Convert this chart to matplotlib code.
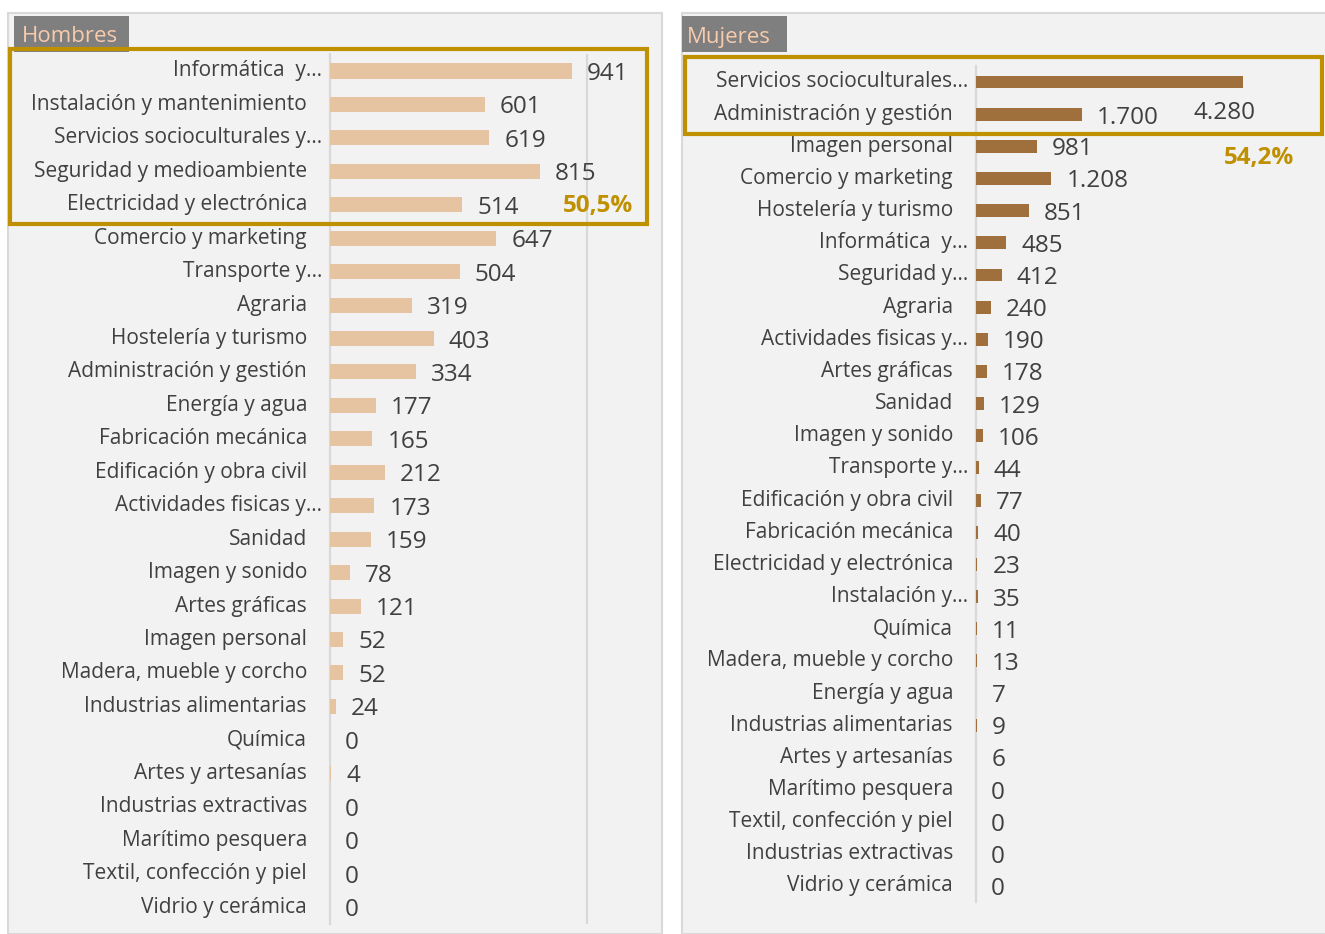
import matplotlib
matplotlib.use("Agg")
import matplotlib.pyplot as plt
from matplotlib.patches import Rectangle
from matplotlib.transforms import offset_copy

plt.rcParams['font.family'] = ['Open Sans', 'DejaVu Sans']

# ---------------- data ----------------
hombres_cat = ["Informática  y…", "Instalación y mantenimiento", "Servicios socioculturales y…",
               "Seguridad y medioambiente", "Electricidad y electrónica", "Comercio y marketing",
               "Transporte y…", "Agraria", "Hostelería y turismo", "Administración y gestión",
               "Energía y agua", "Fabricación mecánica", "Edificación y obra civil",
               "Actividades fisicas y…", "Sanidad", "Imagen y sonido", "Artes gráficas",
               "Imagen personal", "Madera, mueble y corcho", "Industrias alimentarias",
               "Química", "Artes y artesanías", "Industrias extractivas", "Marítimo pesquera",
               "Textil, confección y piel", "Vidrio y cerámica"]
hombres_val = [941, 601, 619, 815, 514, 647, 504, 319, 403, 334, 177, 165, 212, 173, 159,
               78, 121, 52, 52, 24, 0, 4, 0, 0, 0, 0]

mujeres_cat = ["Servicios socioculturales…", "Administración y gestión", "Imagen personal",
               "Comercio y marketing", "Hostelería y turismo", "Informática  y…",
               "Seguridad y…", "Agraria", "Actividades fisicas y…", "Artes gráficas",
               "Sanidad", "Imagen y sonido", "Transporte y…", "Edificación y obra civil",
               "Fabricación mecánica", "Electricidad y electrónica", "Instalación y…",
               "Química", "Madera, mueble y corcho", "Energía y agua",
               "Industrias alimentarias", "Artes y artesanías", "Marítimo pesquera",
               "Textil, confección y piel", "Industrias extractivas", "Vidrio y cerámica"]
mujeres_val = [4280, 1700, 981, 1208, 851, 485, 412, 240, 190, 178, 129, 106, 44, 77, 40,
               23, 35, 11, 13, 7, 9, 6, 0, 0, 0, 0]

hombres_title = "Hombres"
mujeres_title = "Mujeres"
hombres_pct = "50,5%"
mujeres_pct = "54,2%"

# ---------------- style ----------------
W, H = 1325, 934
BG = "#F2F2F2"
PANEL_EDGE = "#D9D9D9"
TXT = "#404040"
GOLD = "#BF9000"
C_H = "#E6C4A2"
C_M = "#A0703C"
TITLE_BG = "#7F7F7F"
TITLE_FG = "#F8CBAD"

fig = plt.figure(figsize=(W / 100, H / 100), dpi=100)
fig.patch.set_facecolor("white")


def fx(x):
    return x / W


def fy(y):
    return 1 - y / H


def frect(x0, y0, x1, y1, **kw):
    r = Rectangle((fx(x0), fy(y1)), fx(x1) - fx(x0), fy(y0) - fy(y1),
                  transform=fig.transFigure, **kw)
    fig.add_artist(r)
    return r


# panels
frect(8, 13, 662, 934, facecolor=BG, edgecolor=PANEL_EDGE, lw=1.5, zorder=0)
frect(682, 13, 1330, 934, facecolor=BG, edgecolor=PANEL_EDGE, lw=1.5, zorder=0)


def fmt(v):
    return f"{v:,}".replace(",", ".")


def make_axes(x0, x1, y0, y1):
    ax = fig.add_axes([fx(x0), fy(y1), fx(x1) - fx(x0), fy(y0) - fy(y1)])
    ax.set_facecolor("none")
    for s in ["top", "right", "bottom"]:
        ax.spines[s].set_visible(False)
    ax.spines["left"].set_color(PANEL_EDGE)
    ax.spines["left"].set_linewidth(1.6)
    ax.set_xticks([])
    ax.set_yticks([])
    return ax


def draw(ax, cats, vals, color, xmax, height, label_offsets=None):
    n = len(cats)
    ax.set_xlim(0, xmax)
    ax.set_ylim(n - 0.5, -0.5)
    ax.barh(range(n), vals, height=height, color=color, zorder=3)
    ytr = ax.get_yaxis_transform()
    for i, c in enumerate(cats):
        dx = 8 if c.endswith("…") else 23
        tr = offset_copy(ytr, fig=fig, x=-dx / 100, y=0, units="inches")
        ax.text(0, i, c, transform=tr, ha="right", va="center",
                fontsize=15, color=TXT, clip_on=False)
    for i, v in enumerate(vals):
        off = (15, -3)
        if label_offsets and i in label_offsets:
            off = label_offsets[i]
        ax.annotate(fmt(v), xy=(v, i), xytext=off, textcoords="offset pixels",
                    ha="left", va="center", fontsize=17.5, color=TXT,
                    annotation_clip=False)


# left panel
kL = (572 - 330) / 941
spL = (907 - 71) / 25
axL = make_axes(330, 330 + 1200 * kL, 71 - spL / 2, 907 + spL / 2)
axL.axvline(1000, color=PANEL_EDGE, lw=1.6, zorder=1)
draw(axL, hombres_cat, hombres_val, C_H, 1200, 0.45)

# right panel
kR = (1243 - 976) / 4280
spR = (886 - 82) / 25
axR = make_axes(976, 976 + 5000 * kR, 82 - spR / 2, 886 + spR / 2)
draw(axR, mujeres_cat, mujeres_val, C_M, 5000, 0.4,
     label_offsets={0: (-50, -31), 1: (15, -4)})

# title tabs
frect(14, 16, 129, 52, facecolor=TITLE_BG, edgecolor="none", zorder=1)
fig.text(fx(22), fy(36), hombres_title, ha="left", va="center", fontsize=16, color=TITLE_FG)
frect(682, 16, 787, 52, facecolor=TITLE_BG, edgecolor="none", zorder=1)
fig.text(fx(687), fy(38), mujeres_title, ha="left", va="center", fontsize=16, color=TITLE_FG)

# highlight boxes
frect(10, 49, 647, 224, facecolor="none", edgecolor=GOLD, lw=3, zorder=5)
frect(685, 57, 1322, 134, facecolor="none", edgecolor=GOLD, lw=3, zorder=5)

fig.text(fx(598), fy(206), hombres_pct, ha="center", va="center", fontsize=17.5,
         fontweight="bold", color=GOLD)
fig.text(fx(1259), fy(158), mujeres_pct, ha="center", va="center", fontsize=17.5,
         fontweight="bold", color=GOLD)

fig.savefig("out.png", dpi=100, facecolor=fig.get_facecolor())
